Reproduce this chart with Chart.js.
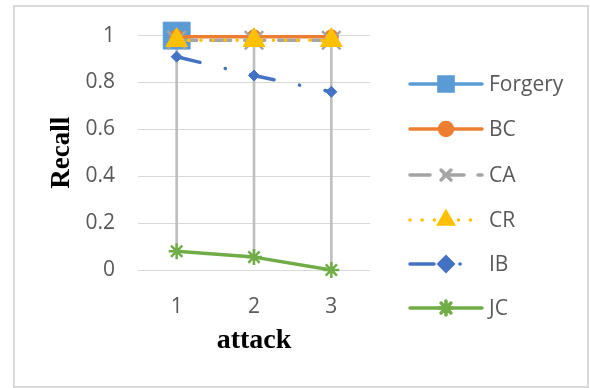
<!DOCTYPE html>
<html>
<head>
<meta charset="utf-8">
<script src="https://cdn.jsdelivr.net/npm/chart.js@4/dist/chart.umd.min.js"></script>
<style>
  html, body { margin: 0; padding: 0; background: #fff; }
  #wrap { position: relative; width: 590px; height: 388px; }
</style>
</head>
<body>
<div id="wrap"><canvas id="c" width="590" height="388"></canvas></div>
<script>
// Recall per attack for each method
const attacks = ['1', '2', '3'];
const forgery = [1, null, null];
const bc = [0.995, 0.995, 0.995];
const ca = [0.98, 0.98, 0.98];
const cr = [0.98, 0.98, 0.98];
const ib = [0.91, 0.83, 0.76];
const jc = [0.08, 0.055, 0];
const yTicks = [0, 0.2, 0.4, 0.6, 0.8, 1];
const yTickLabels = ['0', '0.2', '0.4', '0.6', '0.8', '1'];

const seriesList = [
  { label: 'Forgery', data: forgery, color: '#5B9BD5', dash: [], point: 'rect', r: 19, lr: 10 },
  { label: 'BC', data: bc, color: '#ED7D31', dash: [], point: 'circle', r: 7, lr: 6.5 },
  { label: 'CA', data: ca, color: '#A5A5A5', dash: [20, 14], point: 'crossRot', r: 13, lr: 7 },
  { label: 'CR', data: cr, color: '#FFC000', dash: [0.1, 12], point: 'triangle', r: 12.5, lr: 8 },
  { label: 'IB', data: ib, color: '#4472C4', dash: [24, 26, 0.1, 26], point: 'rectRot', r: 5.5, lr: 7 },
  { label: 'JC', data: jc, color: '#70AD47', dash: [], point: 'star', r: 8, lr: 7 }
];

// high-low lines spanning every series at each attack
const highLow = attacks.map((_, i) => {
  const vals = seriesList.map(s => s.data[i]).filter(v => v !== null);
  return [Math.min(...vals), Math.max(...vals)];
});

const lineSets = seriesList.map((s, idx) => ({
  type: 'line',
  label: s.label,
  data: s.data,
  borderColor: s.color,
  backgroundColor: s.color,
  borderWidth: 3.5,
  borderDash: s.dash,
  borderCapStyle: 'round',
  borderJoinStyle: 'round',
  tension: 0,
  fill: false,
  clip: false,
  spanGaps: false,
  pointStyle: s.point,
  pointRadius: s.r,
  pointHoverRadius: s.r,
  pointBorderColor: s.color,
  pointBackgroundColor: s.color,
  pointBorderWidth: (s.point === 'crossRot' || s.point === 'star') ? 2.5 : 1,
  order: seriesList.length - idx
}));

const frame = {
  id: 'frame',
  beforeDraw(chart) {
    const ctx = chart.ctx;
    ctx.save();
    ctx.fillStyle = '#ffffff';
    ctx.fillRect(0, 0, chart.width, chart.height);
    ctx.strokeStyle = '#d9d9d9';
    ctx.lineWidth = 2;
    ctx.strokeRect(14, 6, 574, 381);
    ctx.restore();
  }
};

// legend: line sample with marker, then the label
const sideLegend = {
  id: 'sideLegend',
  afterDraw(chart) {
    const ctx = chart.ctx;
    const ys = [84, 129, 175, 220, 264, 308];
    const x0 = 410, x1 = 482, xm = 446;
    ctx.save();
    seriesList.forEach((s, i) => {
      const y = ys[i];
      ctx.strokeStyle = s.color;
      ctx.fillStyle = s.color;
      ctx.lineWidth = 3.5;
      ctx.lineCap = 'round';
      ctx.setLineDash(s.dash);
      ctx.beginPath();
      ctx.moveTo(x0, y);
      ctx.lineTo(x1, y);
      ctx.stroke();
      ctx.setLineDash([]);
      Chart.helpers.drawPoint(ctx, {
        pointStyle: s.point,
        radius: s.lr,
        borderWidth: (s.point === 'crossRot' || s.point === 'star') ? 2.5 : 1
      }, xm, y);
      ctx.fillStyle = '#595959';
      ctx.font = '21px "Open Sans"';
      ctx.textBaseline = 'middle';
      ctx.textAlign = 'left';
      ctx.fillText(s.label, 489, y + 1);
    });
    ctx.restore();
  }
};

new Chart(document.getElementById('c'), {
  type: 'line',
  data: {
    labels: attacks,
    datasets: [
      {
        type: 'bar',
        label: 'high-low',
        data: highLow,
        backgroundColor: '#bfbfbf',
        borderWidth: 0,
        barThickness: 2,
        order: 99
      },
      ...lineSets
    ]
  },
  options: {
    responsive: false,
    animation: false,
    events: [],
    layout: { padding: { left: 46, right: 220, top: 34, bottom: 30 } },
    plugins: { legend: { display: false }, tooltip: { enabled: false } },
    scales: {
      x: {
        type: 'category',
        offset: true,
        grid: { display: false },
        border: { display: false },
        ticks: { color: '#595959', font: { family: 'Open Sans', size: 21 }, padding: 16 },
        title: {
          display: true,
          text: 'attack',
          color: '#000',
          padding: 0,
          font: { family: 'Liberation Serif', size: 28, weight: 'bold' }
        },
        afterFit(s) { s.height = 88; }
      },
      y: {
        min: 0,
        max: 1,
        afterBuildTicks(s) { s.ticks = yTicks.map(v => ({ value: v })); },
        grid: { color: '#d9d9d9', lineWidth: 1, drawTicks: false },
        border: { display: false },
        ticks: {
          color: '#595959',
          font: { family: 'Open Sans', size: 21 },
          padding: 23,
          callback: (v, i) => yTickLabels[i]
        },
        title: {
          display: true,
          text: 'Recall',
          color: '#000',
          padding: 0,
          font: { family: 'Liberation Serif', size: 27, weight: 'bold' }
        },
        afterFit(s) { s.width = 92; }
      }
    }
  },
  plugins: [frame, sideLegend]
});
</script>
</body>
</html>
